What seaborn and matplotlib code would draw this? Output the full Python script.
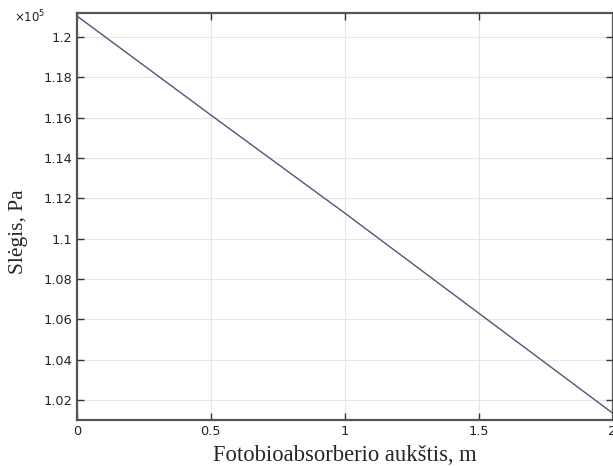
import matplotlib

matplotlib.use("Agg")
import matplotlib.pyplot as plt
import pandas as pd
import seaborn as sns
from matplotlib.ticker import FuncFormatter, MultipleLocator

# values (height in m, pressure in Pa)
height_m = [0.0, 0.5, 1.0, 1.5, 2.0]
pressure_pa = [121040, 116130, 111270, 106310, 101355]

x_ticks = [0, 0.5, 1, 1.5, 2]

df = pd.DataFrame({"height": height_m, "pressure": pressure_pa})

sns.set_style("ticks")
plt.rcParams["font.family"] = ["DejaVu Sans"]

fig = plt.figure(figsize=(6.13, 4.66), dpi=100)
ax = fig.add_axes([0.1256, 0.0987, 0.8736, 0.8734])

sns.lineplot(data=df, x="height", y="pressure", color="#50557a",
             linewidth=1.0, ax=ax)

ax.set_xlim(0, 2)
ax.set_ylim(101010, 121190)
ax.set_xticks(x_ticks)
ax.xaxis.set_major_formatter(FuncFormatter(lambda v, p: f"{v:g}"))
ax.yaxis.set_major_locator(MultipleLocator(2000))
ax.yaxis.set_major_formatter(FuncFormatter(lambda v, p: f"{v / 1e5:g}"))

ax.grid(True, color="#e6e6e6", linewidth=0.8)
ax.tick_params(direction="in", length=5, width=1, colors="#333333",
               labelsize=9.3, top=True, right=True, labelcolor="#222222")
for s in ax.spines.values():
    s.set_color("#555555")
    s.set_linewidth(1.6)

ax.text(-0.118, 0.99, r"$\times10^5$", transform=ax.transAxes, fontsize=8.5,
        color="#222222", ha="left", va="center")

serif = ["Liberation Serif", "DejaVu Serif"]
ax.set_xlabel("Fotobioabsorberio aukštis, m", fontsize=16.3, family=serif,
              labelpad=5)
ax.set_ylabel("Slėgis, Pa", fontsize=15.5, family=serif)
ax.yaxis.set_label_coords(-0.092, 0.462)

fig.savefig("out.png", dpi=100)
plt.close(fig)
